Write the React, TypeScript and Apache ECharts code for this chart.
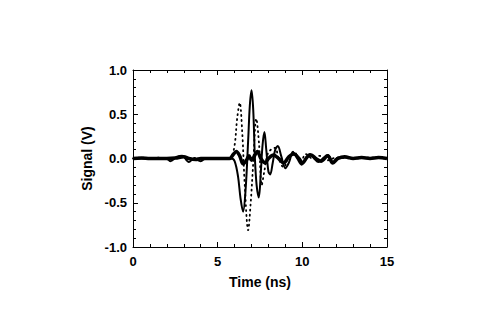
import React, { useEffect, useRef } from "react";
import * as echarts from "echarts";

// Time (ns) and signal (V)
const dottedTime = [0, 0.5, 1.0, 1.5, 2.0, 2.5, 3.0, 3.2, 3.5, 4.0, 4.5, 5.0, 5.5, 5.8, 6.0, 6.15, 6.3, 6.45, 6.6, 6.8, 6.95, 7.1, 7.28, 7.45, 7.6, 7.75, 7.95, 8.15, 8.4, 8.6, 8.9, 9.2, 9.5, 9.9, 10.2, 10.6, 11.0, 11.5, 12.0, 13.0, 14.0, 15.0];
const dottedSignal = [0, 0.01, 0, 0.01, -0.01, 0.01, 0.03, -0.02, 0.01, -0.01, 0, 0, 0, 0.02, 0.15, 0.45, 0.63, 0.3, -0.3, -0.81, -0.5, -0.05, 0.45, 0.15, -0.3, -0.15, 0.05, 0.1, 0.12, 0.0, -0.1, 0.02, 0.08, -0.04, 0.05, 0.0, 0.03, -0.02, 0.01, 0, 0.01, 0];

const thinTime = [0, 1, 2, 2.2, 2.6, 2.9, 3.3, 3.6, 4.0, 4.3, 5, 5.8, 6.0, 6.2, 6.35, 6.5, 6.65, 6.8, 6.9, 7.0, 7.1, 7.2, 7.3, 7.43, 7.55, 7.65, 7.76, 7.87, 8.0, 8.1, 8.25, 8.4, 8.55, 8.75, 9.0, 9.2, 9.45, 9.7, 9.95, 10.2, 10.45, 10.7, 10.95, 11.2, 11.5, 11.8, 12.1, 12.5, 13, 13.5, 14, 14.5, 15];
const thinSignal = [0, 0, 0, -0.03, 0.02, 0.03, -0.04, 0, -0.03, 0, 0, 0, -0.03, -0.2, -0.45, -0.6, -0.35, 0.2, 0.6, 0.77, 0.55, 0.0, -0.3, -0.44, -0.15, 0.15, 0.3, 0.1, -0.15, -0.18, -0.05, 0.1, 0.14, 0.03, -0.11, -0.05, 0.07, 0.0, -0.07, 0.0, 0.05, 0.0, -0.04, 0.0, 0.04, -0.04, 0.01, 0.01, 0, 0.01, 0, 0.01, 0];

const thickTime = [0, 0.5, 1, 1.5, 2, 2.5, 3, 3.3, 3.7, 4, 5, 5.7, 5.9, 6.1, 6.3, 6.5, 6.7, 6.85, 7.0, 7.15, 7.35, 7.55, 7.8, 8.0, 8.3, 8.6, 8.9, 9.2, 9.5, 9.8, 10.0, 10.3, 10.5, 10.8, 11.1, 11.5, 11.8, 12.1, 12.5, 13, 13.5, 14, 14.5, 15];
const thickSignal = [0, 0.005, 0, 0, 0, 0.005, 0.02, 0, -0.01, 0, 0, 0, 0.04, 0.08, 0.03, -0.06, -0.02, 0.03, -0.02, 0.02, 0.08, 0.0, -0.05, 0.0, 0.04, 0.0, -0.05, 0.02, 0.05, 0.0, -0.05, 0.02, 0.04, 0.0, -0.03, 0.03, -0.05, 0.0, 0.02, 0, 0.01, 0, 0.01, 0];

const xTicks = [0, 5, 10, 15];
const yTicks = [-1.0, -0.5, 0.0, 0.5, 1.0];

const pair = (t: number[], v: number[]) => t.map((x, i) => [x, v[i]]);

export default function App() {
  const ref = useRef<HTMLDivElement>(null);
  useEffect(() => {
    if (!ref.current) return;
    const chart = echarts.init(ref.current, null, { renderer: "svg" });
    const font = "'Liberation Sans', Arial, sans-serif";
    const axisCommon = {
      axisLine: { show: true, onZero: false, lineStyle: { color: "#000", width: 1 } },
      axisTick: { show: true, inside: true, length: 5, lineStyle: { color: "#000" } },
      minorTick: { show: true, splitNumber: 5, length: 3, lineStyle: { color: "#000" } },
      splitLine: { show: false },
    };
    chart.setOption({
      animation: false,
      backgroundColor: "#fff",
      grid: { left: 133, right: 93, top: 70, bottom: 86 },
      xAxis: [
        {
          type: "value", min: xTicks[0], max: xTicks[xTicks.length - 1], interval: 5,
          position: "bottom", ...axisCommon,
          name: "Time (ns)", nameLocation: "middle", nameGap: 28,
          nameTextStyle: { fontFamily: font, fontWeight: "bold", fontSize: 14, color: "#000" },
          axisLabel: { fontFamily: font, fontWeight: "bold", fontSize: 13, color: "#000", margin: 8 },
        },
        {
          type: "value", min: xTicks[0], max: xTicks[xTicks.length - 1], interval: 5,
          position: "top", ...axisCommon, axisLabel: { show: false },
        },
      ],
      yAxis: [
        {
          type: "value", min: yTicks[0], max: yTicks[yTicks.length - 1], interval: 0.5,
          position: "left", ...axisCommon,
          name: "Signal (V)", nameLocation: "middle", nameGap: 31,
          nameTextStyle: { fontFamily: font, fontWeight: "bold", fontSize: 14, color: "#000" },
          axisLabel: {
            fontFamily: font, fontWeight: "bold", fontSize: 13, color: "#000", margin: 6,
            formatter: (v: number) => v.toFixed(1),
          },
        },
        {
          type: "value", min: yTicks[0], max: yTicks[yTicks.length - 1], interval: 0.5,
          position: "right", ...axisCommon, axisLabel: { show: false },
        },
      ],
      series: [
        {
          type: "line", data: pair(dottedTime, dottedSignal), showSymbol: false, smooth: 0.35,
          lineStyle: { color: "#000", width: 1.8, type: [1, 4], cap: "round" },
        },
        {
          type: "line", data: pair(thinTime, thinSignal), showSymbol: false, smooth: 0.35,
          lineStyle: { color: "#000", width: 2 },
        },
        {
          type: "line", data: pair(thickTime, thickSignal), showSymbol: false, smooth: 0.35,
          lineStyle: { color: "#000", width: 3.5 },
        },
      ],
    });
    return () => chart.dispose();
  }, []);
  return <div ref={ref} style={{ position: "fixed", left: 0, top: 0, width: 480, height: 333 }} />;
}
